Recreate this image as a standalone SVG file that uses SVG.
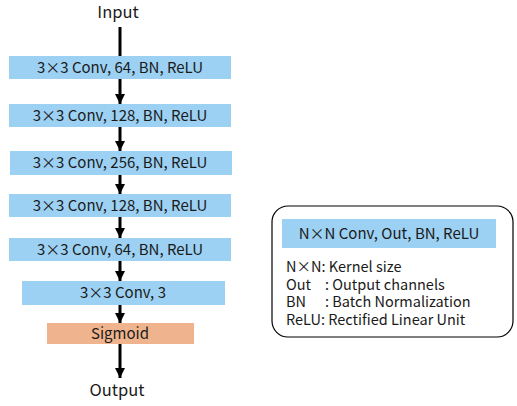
<svg xmlns="http://www.w3.org/2000/svg" width="517" height="406" viewBox="0 0 517 406">
<style>
text{font-family:"Noto Sans CJK JP","Noto Sans",sans-serif;fill:#1a1a1a}
.b{fill:#9DD1F3}
.o{fill:#EFB48E}
.t{font-size:15px;text-anchor:middle}
.io{font-size:16.5px;text-anchor:middle}
.l{font-size:14.5px}
.c{stroke:#000;stroke-width:3;fill:none}
</style>
<defs>
<marker id="ah" markerUnits="userSpaceOnUse" markerWidth="12" markerHeight="10" refX="10" refY="5" orient="auto">
<path d="M0,0 L10,5 L0,10 Z" fill="#000"/>
</marker>
</defs>
<g id="input"><text class="io" x="118" y="18">Input</text></g>
<g id="connectors">
<line class="c" x1="120" y1="27" x2="120" y2="56"/>
<line class="c" x1="120" y1="79" x2="120" y2="104" marker-end="url(#ah)"/>
<line class="c" x1="120" y1="127" x2="120" y2="151" marker-end="url(#ah)"/>
<line class="c" x1="120" y1="175" x2="120" y2="194" marker-end="url(#ah)"/>
<line class="c" x1="120" y1="217" x2="120" y2="238" marker-end="url(#ah)"/>
<line class="c" x1="120" y1="261" x2="120" y2="281" marker-end="url(#ah)"/>
<line class="c" x1="120" y1="305" x2="120" y2="323" marker-end="url(#ah)"/>
<line class="c" x1="120" y1="344" x2="120" y2="378" marker-end="url(#ah)"/>
</g>
<g id="conv1"><rect class="b" x="9" y="56" width="222" height="23"/><text class="t" x="120" y="72.5">3×3 Conv, 64, BN, ReLU</text></g>
<g id="conv2"><rect class="b" x="9" y="104" width="222" height="23"/><text class="t" x="120" y="120.5">3×3 Conv, 128, BN, ReLU</text></g>
<g id="conv3"><rect class="b" x="10" y="151" width="222" height="24"/><text class="t" x="120" y="168">3×3 Conv, 256, BN, ReLU</text></g>
<g id="conv4"><rect class="b" x="9" y="194" width="222" height="23"/><text class="t" x="120" y="210.5">3×3 Conv, 128, BN, ReLU</text></g>
<g id="conv5"><rect class="b" x="9" y="238" width="222" height="23"/><text class="t" x="120" y="254.5">3×3 Conv, 64, BN, ReLU</text></g>
<g id="conv6"><rect class="b" x="22" y="281" width="203" height="24"/><text class="t" x="123" y="298">3×3 Conv, 3</text></g>
<g id="sigmoid"><rect class="o" x="47" y="323" width="147" height="21"/><text class="t" x="120" y="338.5">Sigmoid</text></g>
<g id="output"><text class="io" x="117" y="396">Output</text></g>
<g id="legend">
<rect x="272" y="206" width="241" height="131" rx="16" ry="16" fill="#fff" stroke="#000" stroke-width="1.2"/>
<rect class="b" x="282" y="219" width="214" height="29"/>
<text class="t" x="389" y="239">N×N Conv, Out, BN, ReLU</text>
<text class="l" x="286" y="272">N×N: Kernel size</text>
<text class="l" y="289.5"><tspan x="286">Out</tspan><tspan x="325">: Output channels</tspan></text>
<text class="l" y="307"><tspan x="286">BN</tspan><tspan x="325">: Batch Normalization</tspan></text>
<text class="l" x="286" y="324.5">ReLU: Rectified Linear Unit</text>
</g>
</svg>
